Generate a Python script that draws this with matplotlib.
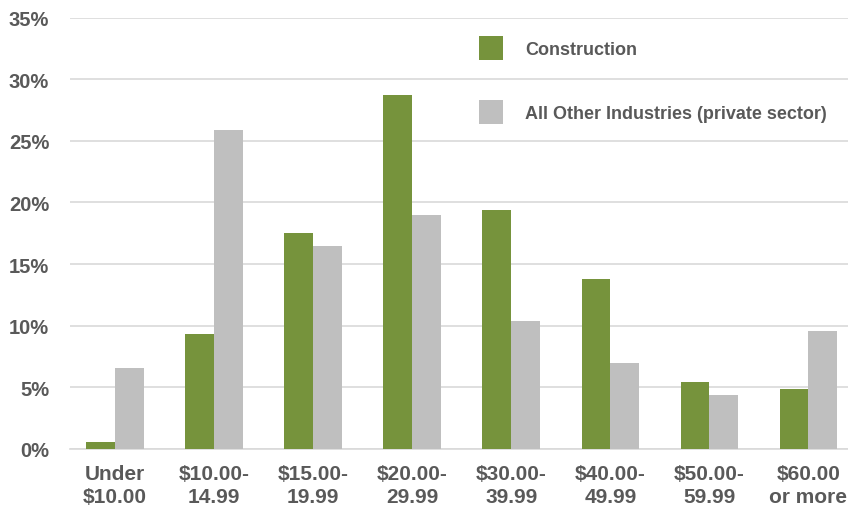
import matplotlib
matplotlib.use("Agg")
import matplotlib.pyplot as plt
import numpy as np

categories = ["Under\n$10.00", "$10.00-\n14.99", "$15.00-\n19.99", "$20.00-\n29.99",
              "$30.00-\n39.99", "$40.00-\n49.99", "$50.00-\n59.99", "$60.00\nor more"]
construction = [0.6, 9.3, 17.5, 28.7, 19.4, 13.8, 5.4, 4.9]
other = [6.6, 25.9, 16.5, 19.0, 10.4, 7.0, 4.4, 9.6]
yticks = [0, 5, 10, 15, 20, 25, 30, 35]
ytick_labels = [f"{v}%" for v in yticks]

FONT = "Liberation Sans"
GREEN = "#76933C"
GRAY = "#BFBFBF"
TXT = "#595959"

fig = plt.figure(figsize=(8.48, 5.10), dpi=100)
ax = fig.add_axes([70/848, 1 - 450/510, 1 - 70/848, (450 - 18.5)/510])

x = np.arange(len(categories))
w = 0.29
ax.bar(x - w/2, construction, width=w, color=GREEN, label="Construction", zorder=3)
ax.bar(x + w/2, other, width=w, color=GRAY, label="All Other Industries (private sector)", zorder=3)

ax.set_xlim(-0.454, 7.40)
ax.set_ylim(0, 35)
ax.set_yticks(yticks)
ax.set_yticklabels(ytick_labels)
ax.yaxis.grid(True, color="#D9D9D9", linewidth=1.2, zorder=0)
ax.set_axisbelow(True)
for s in ["top", "right", "left"]:
    ax.spines[s].set_visible(False)
ax.spines["bottom"].set_color("#D9D9D9")
ax.spines["bottom"].set_linewidth(1.2)
ax.tick_params(axis="both", length=0)
ax.tick_params(axis="y", pad=15)
ax.tick_params(axis="x", pad=11)
ax.set_xticks(x)
ax.set_xticklabels(categories, linespacing=1.27)
for lab in ax.get_yticklabels():
    lab.set_fontsize(14.5)
for lab in ax.get_xticklabels():
    lab.set_fontsize(15)
for lab in ax.get_yticklabels() + ax.get_xticklabels():
    lab.set_fontweight("bold")
    lab.set_color(TXT)
    lab.set_fontfamily(FONT)

fs = 13
px = fs * 100 / 72
hh = (24 / px - 0.245) / 0.65
leg = fig.legend(loc="upper left", bbox_to_anchor=(479/848, 1 - 37/510),
                 bbox_transform=fig.transFigure, borderpad=0, borderaxespad=0,
                 frameon=False, handlelength=24/px, handleheight=hh,
                 labelspacing=40/px, handletextpad=22/px,
                 prop={"family": FONT, "weight": "bold", "size": fs})
for t in leg.get_texts():
    t.set_color(TXT)

fig.savefig("out.png", dpi=100)
